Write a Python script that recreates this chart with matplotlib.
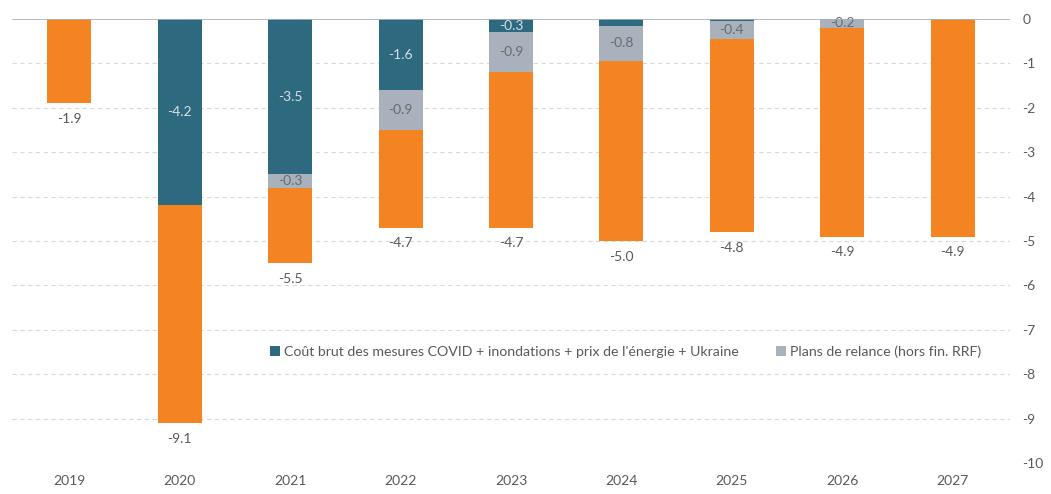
import numpy as np
import matplotlib.pyplot as plt

plt.rcParams['font.family'] = ['Lato', 'DejaVu Sans']

years = ['2019', '2020', '2021', '2022', '2023', '2024', '2025', '2026', '2027']
covid = [0.0, -4.2, -3.5, -1.6, -0.3, -0.15, -0.05, 0.0, 0.0]
relance = [0.0, 0.0, -0.3, -0.9, -0.9, -0.8, -0.4, -0.2, 0.0]
total = [-1.9, -9.1, -5.5, -4.7, -4.7, -5.0, -4.8, -4.9, -4.9]

c_covid = '#2E6A7F'
c_relance = '#A8B1BC'
c_other = '#F48421'
c_text = '#595959'

covid = np.array(covid)
relance = np.array(relance)
total = np.array(total)
other = total - covid - relance
x = np.arange(len(years))
w = 0.4

fig = plt.figure(figsize=(10.51, 4.94), dpi=100)
ax = fig.add_axes([0.0114, 0.0628, 0.9496, 0.8987])

ax.bar(x, covid, w, color=c_covid, zorder=3,
       label="Coût brut des mesures COVID + inondations + prix de l'énergie + Ukraine")
ax.bar(x, relance, w, bottom=covid, color=c_relance, zorder=3,
       label='Plans de relance (hors fin. RRF)')
ax.bar(x, other, w, bottom=covid + relance, color=c_other, zorder=3)

# labels inside the segments
for i in x:
    if abs(covid[i]) >= 0.25:
        ax.text(i, covid[i] / 2, f'{covid[i]:.1f}', ha='center', va='center',
                fontsize=10, color='#D9DEE3', zorder=4)
    if abs(relance[i]) >= 0.15:
        ax.text(i, covid[i] + relance[i] / 2, f'{relance[i]:.1f}', ha='center',
                va='center', fontsize=10, color='#6B6B6B', zorder=4)
    ax.text(i, total[i] - 0.22, f'{total[i]:.1f}', ha='center', va='top',
            fontsize=10, color=c_text)

ax.set_xlim(-0.52, 8.52)
ax.set_ylim(-10, 0)
ax.set_yticks(np.arange(-10, 1, 1))
ax.set_yticklabels([str(v) for v in range(-10, 1)])
ax.yaxis.tick_right()
ax.set_xticks(x)
ax.set_xticklabels(years)
ax.tick_params(length=0, labelsize=10, labelcolor=c_text)
ax.tick_params(axis='y', pad=9)
ax.tick_params(axis='x', pad=9)

for v in range(-10, 0):
    ax.axhline(v, color='#D9D9D9', lw=0.8, ls=(0, (4, 3)), zorder=1)
ax.axhline(0, color='#A6B0BA', lw=1.2, zorder=5)

for s in ax.spines.values():
    s.set_visible(False)

ax.legend(loc='center left', bbox_to_anchor=(0.246, 0.25), ncol=2, frameon=False,
          fontsize=10.2, labelcolor=c_text, handlelength=0.7, handleheight=0.7,
          handletextpad=0.3, columnspacing=2.6)

fig.savefig('out.png', dpi=100)
